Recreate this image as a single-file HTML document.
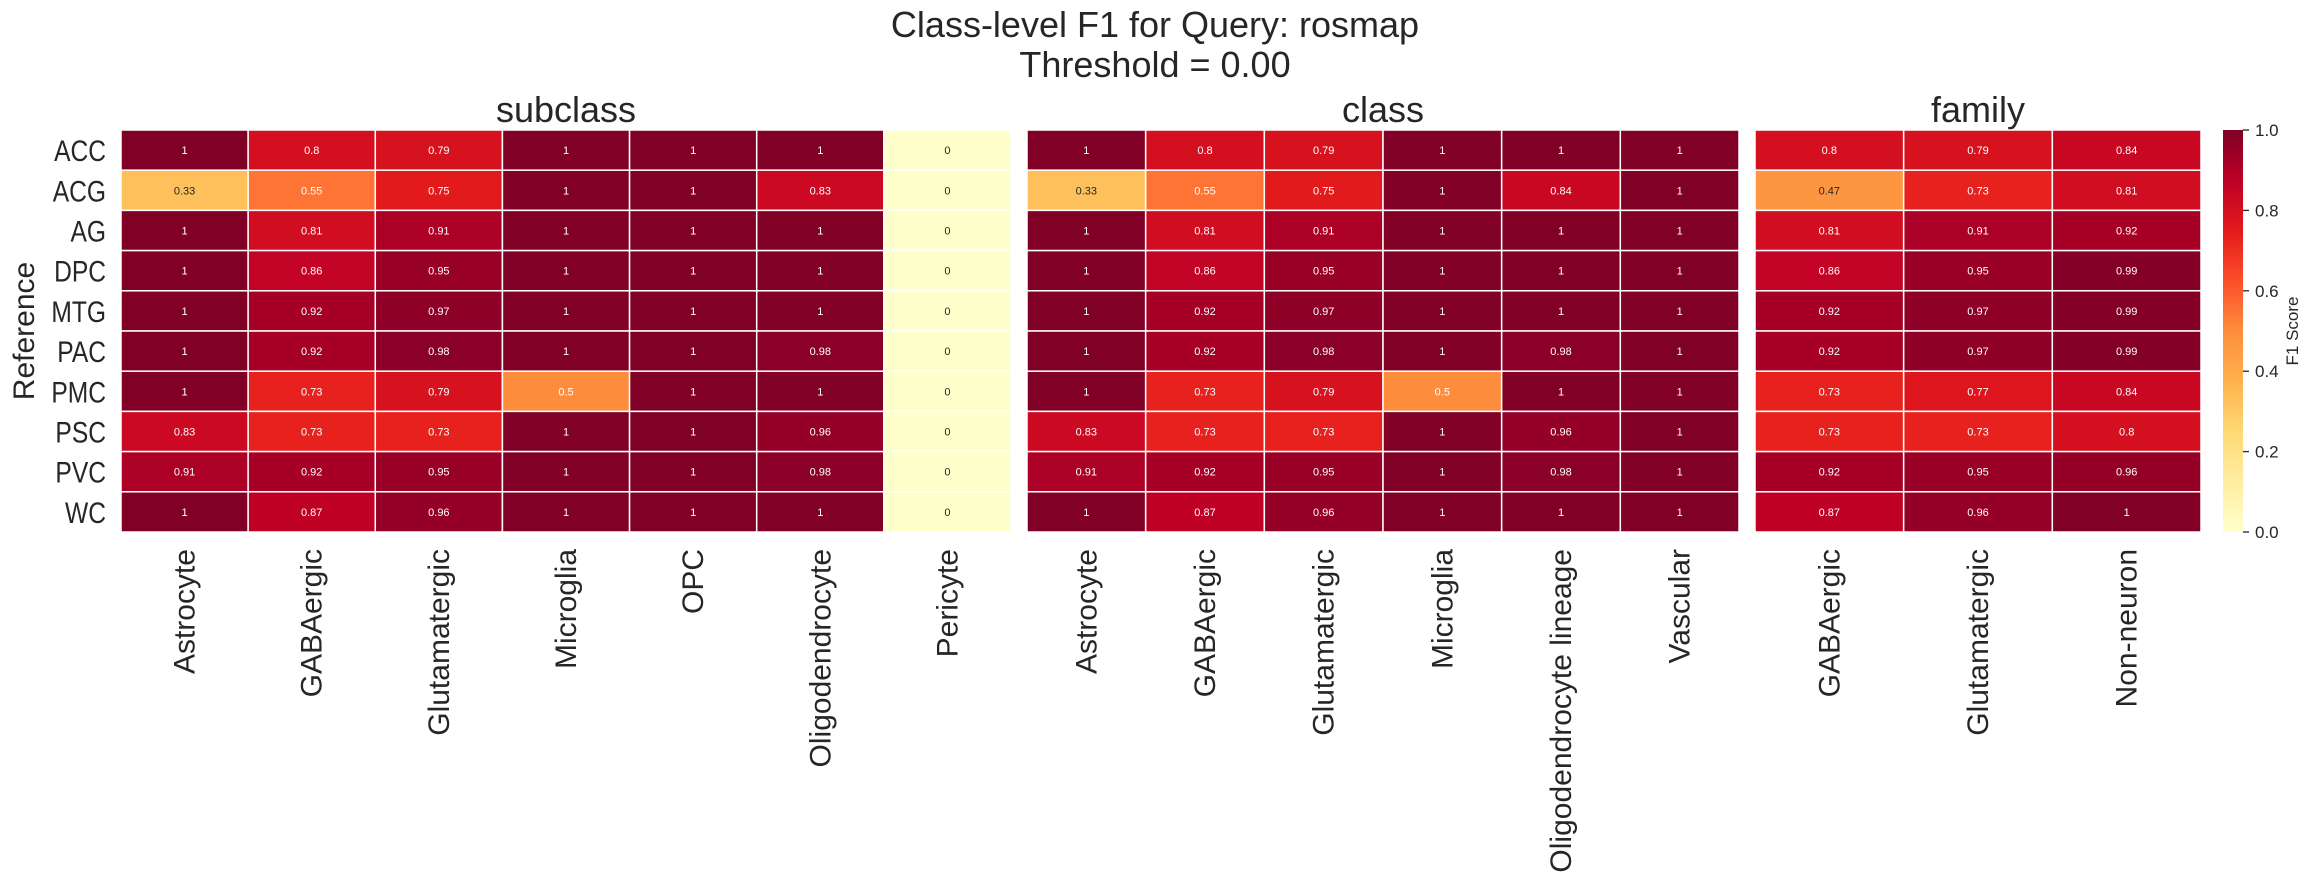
<!DOCTYPE html>
<html><head><meta charset="utf-8"><style>
html,body{margin:0;padding:0;background:#fff;}
svg{display:block;font-family:"Liberation Sans","DejaVu Sans",sans-serif;}
</style></head><body>
<svg id="chart" width="2311" height="895" viewBox="0 0 2311 895" xmlns="http://www.w3.org/2000/svg">
<defs>
<linearGradient id="cbar" x1="0" y1="1" x2="0" y2="0">
<stop offset="0" stop-color="#ffffcc"/><stop offset="0.125" stop-color="#ffeda0"/><stop offset="0.25" stop-color="#fed976"/><stop offset="0.375" stop-color="#feb24c"/><stop offset="0.5" stop-color="#fd8d3c"/><stop offset="0.625" stop-color="#fc4e2a"/><stop offset="0.75" stop-color="#e31a1c"/><stop offset="0.875" stop-color="#bd0026"/><stop offset="1" stop-color="#800026"/>
</linearGradient>
</defs>
<text x="1155" y="37" font-size="36" fill="#262626" text-anchor="middle">Class-level F1 for Query: rosmap</text>
<text x="1155" y="77" font-size="36" fill="#262626" text-anchor="middle">Threshold = 0.00</text>
<text transform="translate(34,331) rotate(-90)" font-size="30" fill="#262626" text-anchor="middle">Reference</text>
<g id="panels"></g>
<rect x="2223" y="130" width="20" height="402" fill="url(#cbar)"/>
<g id="cbticks"></g>
<text transform="translate(2298,331) rotate(-90)" font-size="17" fill="#262626" text-anchor="middle">F1 Score</text>
</svg>
<script>
const rows = ["ACC","ACG","AG","DPC","MTG","PAC","PMC","PSC","PVC","WC"];
const subclassCats = ["Astrocyte","GABAergic","Glutamatergic","Microglia","OPC","Oligodendrocyte","Pericyte"];
const subclassVals = [
[1,0.8,0.79,1,1,1,0],[0.33,0.55,0.75,1,1,0.83,0],[1,0.81,0.91,1,1,1,0],[1,0.86,0.95,1,1,1,0],
[1,0.92,0.97,1,1,1,0],[1,0.92,0.98,1,1,0.98,0],[1,0.73,0.79,0.5,1,1,0],[0.83,0.73,0.73,1,1,0.96,0],
[0.91,0.92,0.95,1,1,0.98,0],[1,0.87,0.96,1,1,1,0]];
const classCats = ["Astrocyte","GABAergic","Glutamatergic","Microglia","Oligodendrocyte lineage","Vascular"];
const classVals = [
[1,0.8,0.79,1,1,1],[0.33,0.55,0.75,1,0.84,1],[1,0.81,0.91,1,1,1],[1,0.86,0.95,1,1,1],
[1,0.92,0.97,1,1,1],[1,0.92,0.98,1,0.98,1],[1,0.73,0.79,0.5,1,1],[0.83,0.73,0.73,1,0.96,1],
[0.91,0.92,0.95,1,0.98,1],[1,0.87,0.96,1,1,1]];
const familyCats = ["GABAergic","Glutamatergic","Non-neuron"];
const familyVals = [
[0.8,0.79,0.84],[0.47,0.73,0.81],[0.81,0.91,0.92],[0.86,0.95,0.99],[0.92,0.97,0.99],
[0.92,0.97,0.99],[0.73,0.77,0.84],[0.73,0.73,0.8],[0.92,0.95,0.96],[0.87,0.96,1]];
const cbTicks = [0,0.2,0.4,0.6,0.8,1.0];

const NS="http://www.w3.org/2000/svg";
const stops=[[0,"#ffffcc"],[0.125,"#ffeda0"],[0.25,"#fed976"],[0.375,"#feb24c"],[0.5,"#fd8d3c"],[0.625,"#fc4e2a"],[0.75,"#e31a1c"],[0.875,"#bd0026"],[1,"#800026"]];
function hex(h){return [1,3,5].map(i=>parseInt(h.substr(i,2),16));}
function cmap(v){v=Math.max(0,Math.min(1,v));
 for(let i=0;i<stops.length-1;i++){const a=stops[i],b=stops[i+1];
  if(v<=b[0]){const t=(v-a[0])/(b[0]-a[0]);const ca=hex(a[1]),cb=hex(b[1]);
   return "rgb("+ca.map((c,k)=>Math.round(c+(cb[k]-c)*t)).join(",")+")";}}
 return "#800026";}
function fmt(v){return String(Math.round(v*100)/100);}
function mk(tag,attrs,parent){const e=document.createElementNS(NS,tag);for(const k in attrs)e.setAttribute(k,attrs[k]);parent.appendChild(e);return e;}
const topY=130,bottomY=532,rowH=(bottomY-topY)/rows.length;
const yScale=i=>topY+i*rowH;
const panels=[
 {name:"subclass",cats:subclassCats,vals:subclassVals,x0:121,x1:1011},
 {name:"class",cats:classCats,vals:classVals,x0:1027,x1:1739},
 {name:"family",cats:familyCats,vals:familyVals,x0:1755,x1:2201}];
const pg=document.getElementById("panels");
panels.forEach((p,pi)=>{
 const g=mk("g",{},pg);
 
 
 const cw=(p.x1-p.x0)/p.cats.length;
 const xScale=j=>p.x0+j*cw;
 const t=mk("text",{x:(p.x0+p.x1)/2,y:122,"font-size":36,fill:"#262626","text-anchor":"middle"},g);
 t.textContent=p.name;
 
 
 p.vals.forEach((row,i)=>row.forEach((v,j)=>{
  const r=mk("rect",{x:xScale(j),y:yScale(i),width:cw,height:rowH,fill:cmap(v),stroke:"#fff","stroke-width":1.5},g);
  
  
  const tx=mk("text",{x:xScale(j)+cw/2,y:yScale(i)+rowH/2+4,"font-size":11,fill:v<0.5?"#262626":"#ffffff","text-anchor":"middle"},g);
  tx.textContent=fmt(v);
  
  
 }));
 p.cats.forEach((c,j)=>{
  const cx=xScale(j)+cw/2;
  const l=mk("text",{transform:"translate("+(cx+10)+",549) rotate(-90)","font-size":30,fill:"#262626","text-anchor":"end"},g);
  l.textContent=c;
  
  
 });
 if(pi===0){rows.forEach((r,i)=>{
  const l=mk("text",{transform:"translate(106,"+(yScale(i)+rowH/2+11)+") scale(0.82,1)","font-size":30,fill:"#262626","text-anchor":"end"},g);
  l.textContent=r;
  
  
 });}
});
const cg=document.getElementById("cbticks");
cbTicks.forEach(v=>{
 const y=bottomY-v*(bottomY-topY);
 const ln=mk("line",{x1:2243,x2:2249,y1:y,y2:y,stroke:"#262626","stroke-width":1.3},cg);
 
 
 const t=mk("text",{x:2255,y:y+6,"font-size":17,fill:"#262626"},cg);
 t.textContent=v.toFixed(1);
 
 
});
</script>
</body></html>
